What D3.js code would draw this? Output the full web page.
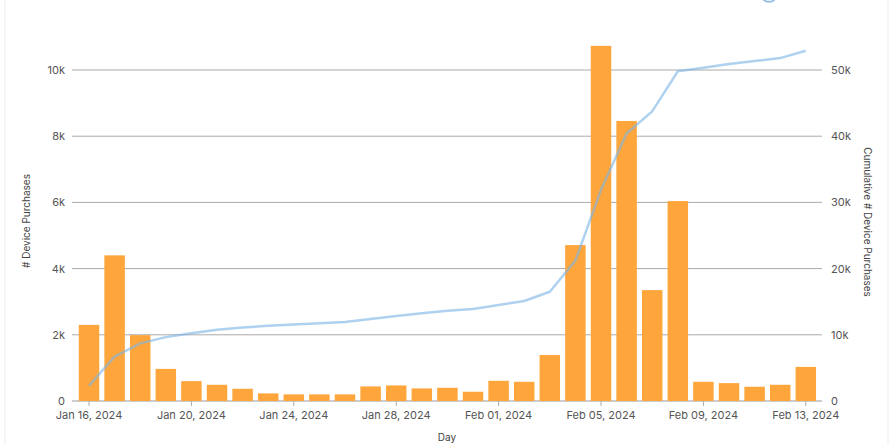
<!DOCTYPE html>
<html>
<head>
<meta charset="utf-8">
<script src="https://cdn.jsdelivr.net/npm/d3@7"></script>
<style>
    body { margin: 0; background: #fff; font-family: Inter, "Noto Sans", sans-serif; }
    svg text { font-family: Inter, "Noto Sans", sans-serif; }
    .tick text { fill: #555; font-size: 11px; }
    .axis-title { fill: #444; font-size: 10px; }
</style>
</head>
<body>
<div class="chart-container"></div>
<script>
// Chart params
const width = 893;
const height = 445;

// Data
const days = [
    "2024-01-16", "2024-01-17", "2024-01-18", "2024-01-19", "2024-01-20", "2024-01-21",
    "2024-01-22", "2024-01-23", "2024-01-24", "2024-01-25", "2024-01-26", "2024-01-27",
    "2024-01-28", "2024-01-29", "2024-01-30", "2024-01-31", "2024-02-01", "2024-02-02",
    "2024-02-03", "2024-02-04", "2024-02-05", "2024-02-06", "2024-02-07", "2024-02-08",
    "2024-02-09", "2024-02-10", "2024-02-11", "2024-02-12", "2024-02-13"
];
const purchases = [
    2300, 4400, 1990, 970, 600, 490, 370, 230, 200, 200, 200, 440,
    470, 380, 400, 280, 610, 580, 1390, 4710, 10730, 8460, 3350, 6040,
    580, 540, 430, 490, 1030
];
const cumulative = [
    2300, 6700, 8700, 9650, 10250, 10750, 11100, 11350, 11550, 11750, 11950, 12400,
    12850, 13250, 13650, 13900, 14500, 15100, 16500, 21200, 31900, 40400, 43750, 49800,
    50350, 50900, 51350, 51800, 52900
];
const tickDays = ["2024-01-16", "2024-01-20", "2024-01-24", "2024-01-28", "2024-02-01", "2024-02-05", "2024-02-09", "2024-02-13"];
const leftTicks = [0, 2000, 4000, 6000, 8000, 10000];
const rightTicks = [0, 10000, 20000, 30000, 40000, 50000];

const parseDay = d3.timeParse("%Y-%m-%d");
const formatDay = d3.timeFormat("%b %d, %Y");
const formatK = v => v === 0 ? "0" : (v / 1000) + "k";

const svg = d3.select('.chart-container')
    .append('svg')
    .attr('width', width)
    .attr('height', height);

// Card border
svg.append('rect')
    .attr('x', 5).attr('y', -5)
    .attr('width', 883).attr('height', height + 10)
    .attr('fill', 'none')
    .attr('stroke', '#eeeeee');

// Scales
const x = d3.scaleBand()
    .domain(days)
    .range([76.2, 818.6])
    .paddingInner(0.2)
    .paddingOuter(0.1);

const yLeft = d3.scaleLinear().domain([0, 10000]).range([401, 70]);
const yRight = d3.scaleLinear().domain([0, 50000]).range([401, 70]);

// Gridlines
svg.append('g')
    .selectAll('line')
    .data(leftTicks)
    .enter()
    .append('line')
    .attr('x1', 72).attr('x2', 822)
    .attr('y1', d => yLeft(d)).attr('y2', d => yLeft(d))
    .attr('stroke', d => d === 0 ? '#999' : '#aaa')
    .attr('stroke-width', 1);

// Left axis
const leftAxis = svg.append('g')
    .attr('transform', 'translate(72,0)')
    .call(d3.axisLeft(yLeft).tickValues(leftTicks).tickFormat(formatK).tickSize(0).tickPadding(7));
leftAxis.select('.domain').remove();

// Right axis
const rightAxis = svg.append('g')
    .attr('transform', 'translate(822,0)')
    .call(d3.axisRight(yRight).tickValues(rightTicks).tickFormat(formatK).tickSize(0).tickPadding(9));
rightAxis.select('.domain').remove();

// Bottom axis
const bottomAxis = svg.append('g')
    .attr('transform', 'translate(0,401)')
    .call(d3.axisBottom(x).tickValues(tickDays).tickFormat(d => formatDay(parseDay(d))).tickSize(5).tickPadding(5));
bottomAxis.select('.domain').remove();
bottomAxis.selectAll('.tick line').attr('stroke', '#aaa');

// Bars
svg.append('g')
    .selectAll('rect')
    .data(days)
    .enter()
    .append('rect')
    .attr('x', d => x(d))
    .attr('width', x.bandwidth())
    .attr('y', (d, i) => yLeft(purchases[i]))
    .attr('height', (d, i) => yLeft(0) - yLeft(purchases[i]))
    .attr('fill', '#fea53b');

// Cumulative line
const line = d3.line()
    .x((d, i) => x(days[i]) + x.bandwidth() / 2)
    .y(d => yRight(d));

svg.append('path')
    .datum(cumulative)
    .attr('d', line)
    .attr('fill', 'none')
    .attr('stroke', '#7db5e6')
    .attr('stroke-opacity', 0.62)
    .attr('stroke-width', 2.5)
    .attr('stroke-linejoin', 'round');

// Clipped marker at the top
svg.append('circle')
    .attr('cx', 769).attr('cy', -6).attr('r', 8)
    .attr('fill', '#e3eefa')
    .attr('stroke', '#8cb9e6')
    .attr('stroke-width', 1.5);

// Axis titles
svg.append('text')
    .attr('class', 'axis-title')
    .attr('transform', 'translate(30,221) rotate(-90)')
    .attr('text-anchor', 'middle')
    .text('# Device Purchases');

svg.append('text')
    .attr('class', 'axis-title')
    .attr('transform', 'translate(864,222) rotate(90)')
    .attr('text-anchor', 'middle')
    .text('Cumulative # Device Purchases');

svg.append('text')
    .attr('class', 'axis-title')
    .attr('x', 447).attr('y', 441)
    .attr('text-anchor', 'middle')
    .text('Day');
</script>
</body>
</html>
